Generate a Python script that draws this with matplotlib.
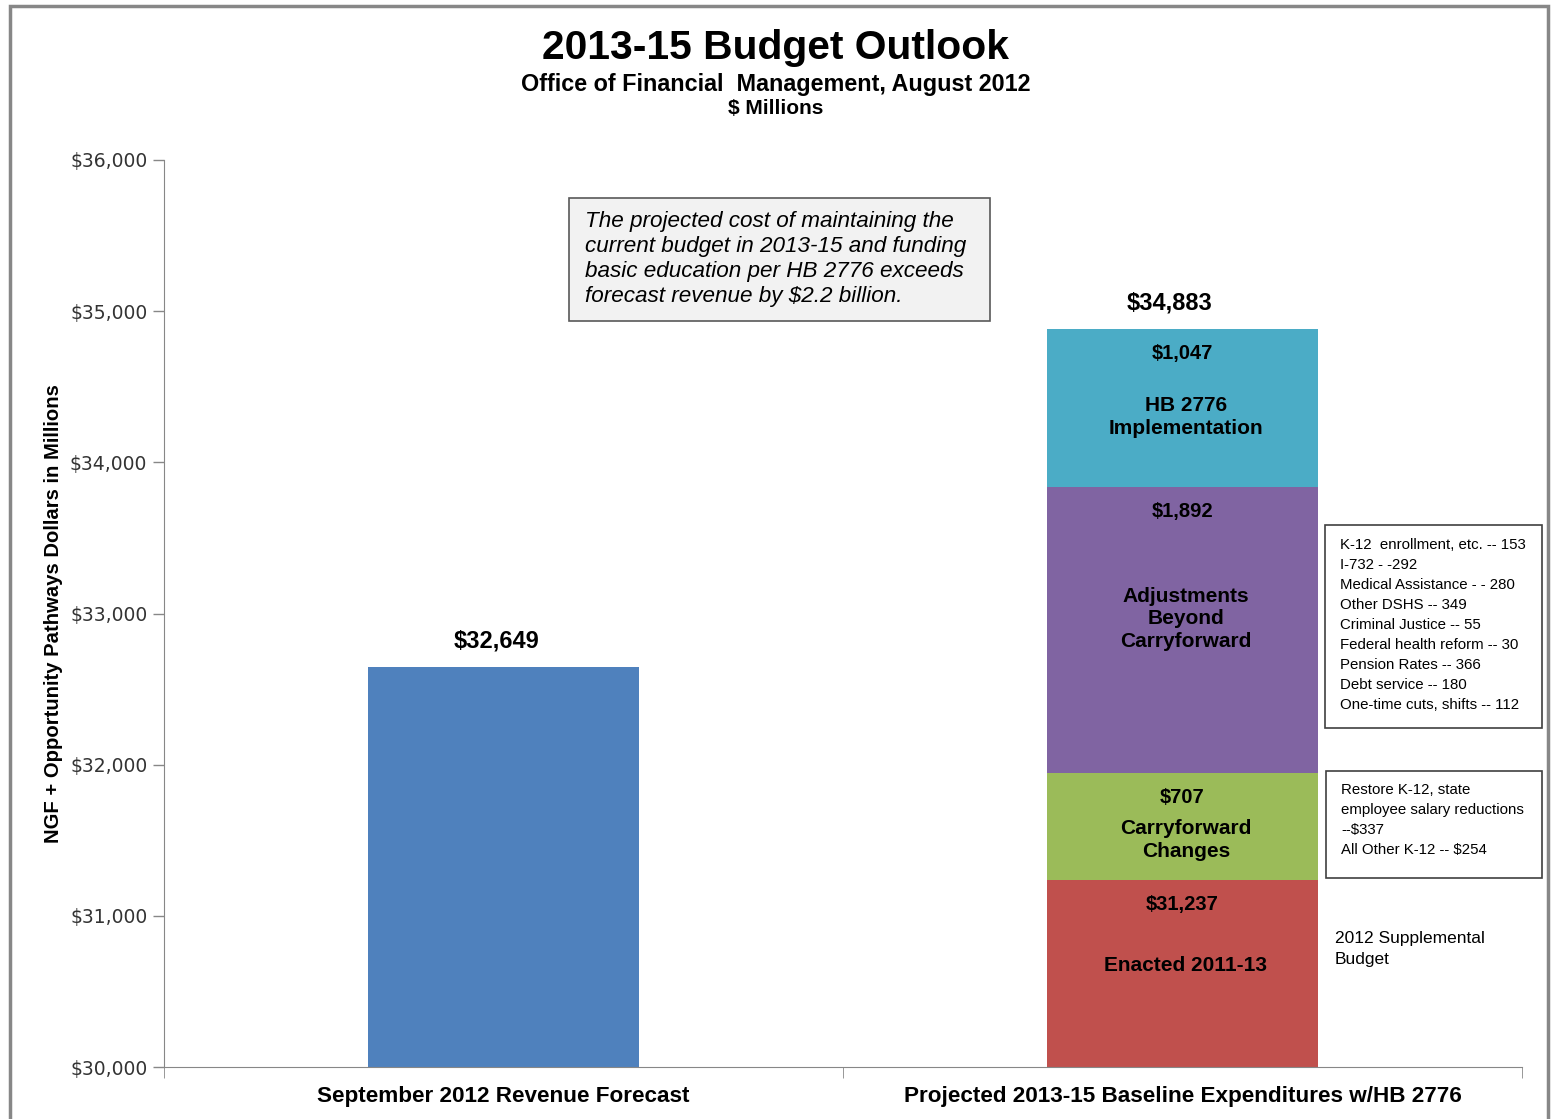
import matplotlib

matplotlib.use("Agg")

import matplotlib.pyplot as plt
from matplotlib.patches import Rectangle
from matplotlib.ticker import FuncFormatter

# Values in $ millions
categories = ["September 2012 Revenue Forecast",
              "Projected 2013-15 Baseline Expenditures w/HB 2776"]
revenue = 32649
segment_names = ["Enacted 2011-13", "Carryforward\nChanges",
                 "Adjustments\nBeyond\nCarryforward", "HB 2776\nImplementation"]
segment_values = [31237, 707, 1892, 1047]
segment_colors = ["#C0504D", "#9BBB59", "#8064A2", "#4BACC6"]
# where the segment name sits, in $ millions on the y axis
segment_name_y = [30669, 31502, 32964, 34300]

adjustment_notes = [
    "K-12  enrollment, etc. -- 153",
    "I-732 - -292",
    "Medical Assistance - - 280",
    "Other DSHS -- 349",
    "Criminal Justice -- 55",
    "Federal health reform -- 30",
    "Pension Rates -- 366",
    "Debt service -- 180",
    "One-time cuts, shifts -- 112",
]
carryforward_notes = [
    "Restore K-12, state",
    "employee salary reductions",
    "--$337",
    "All Other K-12 -- $254",
]
callout = ("The projected cost of maintaining the\n"
           "current budget in 2013-15 and funding\n"
           "basic education per HB 2776 exceeds\n"
           "forecast revenue by $2.2 billion.")

plt.rcParams["font.family"] = ["Liberation Sans", "DejaVu Sans"]
GREY = "#878787"

fig = plt.figure(figsize=(15.52, 11.19), dpi=100)
ax = fig.add_axes([164 / 1552, 1 - 1067 / 1119, 1358 / 1552, 907 / 1119])

# frame round the whole chart
fig.patches.append(Rectangle((10 / 1552, -0.05), 1538 / 1552, 0.05 + 1 - 6 / 1119,
                             transform=fig.transFigure, fill=False,
                             edgecolor=GREY, linewidth=2.5, clip_on=False))

width = 0.4
ymin = 30000
ax.bar(0, revenue - ymin, width, bottom=ymin, color="#4F81BD")
ax.annotate(f"${revenue:,}", (0, revenue), xytext=(-5, 10), textcoords="offset points",
            ha="center", va="bottom", fontsize=17, fontweight="bold")

# stacked expenditure bar, clipped at the axis floor
bottom = 0
for name, val, col, ny in zip(segment_names, segment_values, segment_colors, segment_name_y):
    top = bottom + val
    base = max(bottom, ymin)
    ax.bar(1, top - base, width, bottom=base, color=col)
    ax.text(1, top - 162, f"${val:,}", ha="center", va="center",
            fontsize=14.5, fontweight="bold")
    ax.text(1.005, ny, name, ha="center", va="center", fontsize=15,
            fontweight="bold", linespacing=1.25)
    bottom = top
ax.annotate(f"${bottom:,}", (1, bottom), xytext=(-9, 10), textcoords="offset points",
            ha="center", va="bottom", fontsize=17, fontweight="bold")

ax.set_xlim(-0.5, 1.5)
ax.set_ylim(ymin, 36000)
ax.set_yticks(range(30000, 36001, 1000))
ax.yaxis.set_major_formatter(FuncFormatter(lambda v, _: f"${v:,.0f}"))
ax.tick_params(axis="y", direction="out", length=8, width=1, color=GREY,
               labelsize=13.5, labelcolor="#333333", pad=4)
for lab in ax.get_yticklabels():
    lab.set_family("DejaVu Sans")
ax.set_xticks([0, 1])
ax.set_xticklabels(categories, fontsize=16.2, fontweight="bold")
ax.set_xticks([-0.5, 0.5, 1.5], minor=True)
ax.tick_params(axis="x", which="major", length=0, pad=14)
ax.tick_params(axis="x", which="minor", direction="out", length=8, color=GREY)

for side in ("top", "right"):
    ax.spines[side].set_visible(False)
for side in ("left", "bottom"):
    ax.spines[side].set_color(GREY)

ax.set_ylabel("NGF + Opportunity Pathways Dollars in Millions", fontsize=14.6,
              fontweight="bold")
ax.yaxis.set_label_coords(-0.0745, 0.5)

fig.text(0.5, 1 - 48 / 1119, "2013-15 Budget Outlook", ha="center", va="center",
         fontsize=29.3, fontweight="bold")
fig.text(0.5, 1 - 85 / 1119, "Office of Financial  Management, August 2012",
         ha="center", va="center", fontsize=16.8, fontweight="bold")
fig.text(0.5, 1 - 109 / 1119, "$ Millions", ha="center", va="center",
         fontsize=15, fontweight="bold")

# callout box
ax.add_patch(Rectangle((569 / 1552, 1 - 321 / 1119), 421 / 1552, 123 / 1119,
                       transform=fig.transFigure, facecolor="#F2F2F2",
                       edgecolor="#595959", linewidth=1.2))
fig.text(585 / 1552, 1 - 259 / 1119, callout, ha="left", va="center",
         fontsize=16.2, style="italic", linespacing=1.25)

# breakdown notes to the right of the stack
ax.add_patch(Rectangle((1325 / 1552, 1 - 728 / 1119), 217 / 1552, 203 / 1119,
                       transform=fig.transFigure, facecolor="white",
                       edgecolor="#404040", linewidth=1.2, clip_on=False))
fig.text(1340 / 1552, 1 - 625 / 1119, "\n".join(adjustment_notes), ha="left",
         va="center", fontsize=10.8, linespacing=1.55)
ax.add_patch(Rectangle((1326 / 1552, 1 - 878 / 1119), 216 / 1552, 107 / 1119,
                       transform=fig.transFigure, facecolor="white",
                       edgecolor="#404040", linewidth=1.2, clip_on=False))
fig.text(1341 / 1552, 1 - 820 / 1119, "\n".join(carryforward_notes), ha="left",
         va="center", fontsize=10.8, linespacing=1.55)
fig.text(1335 / 1552, 1 - 949 / 1119, "2012 Supplemental\nBudget", ha="left",
         va="center", fontsize=12.5, linespacing=1.45)

fig.savefig("out.png", dpi=100)
